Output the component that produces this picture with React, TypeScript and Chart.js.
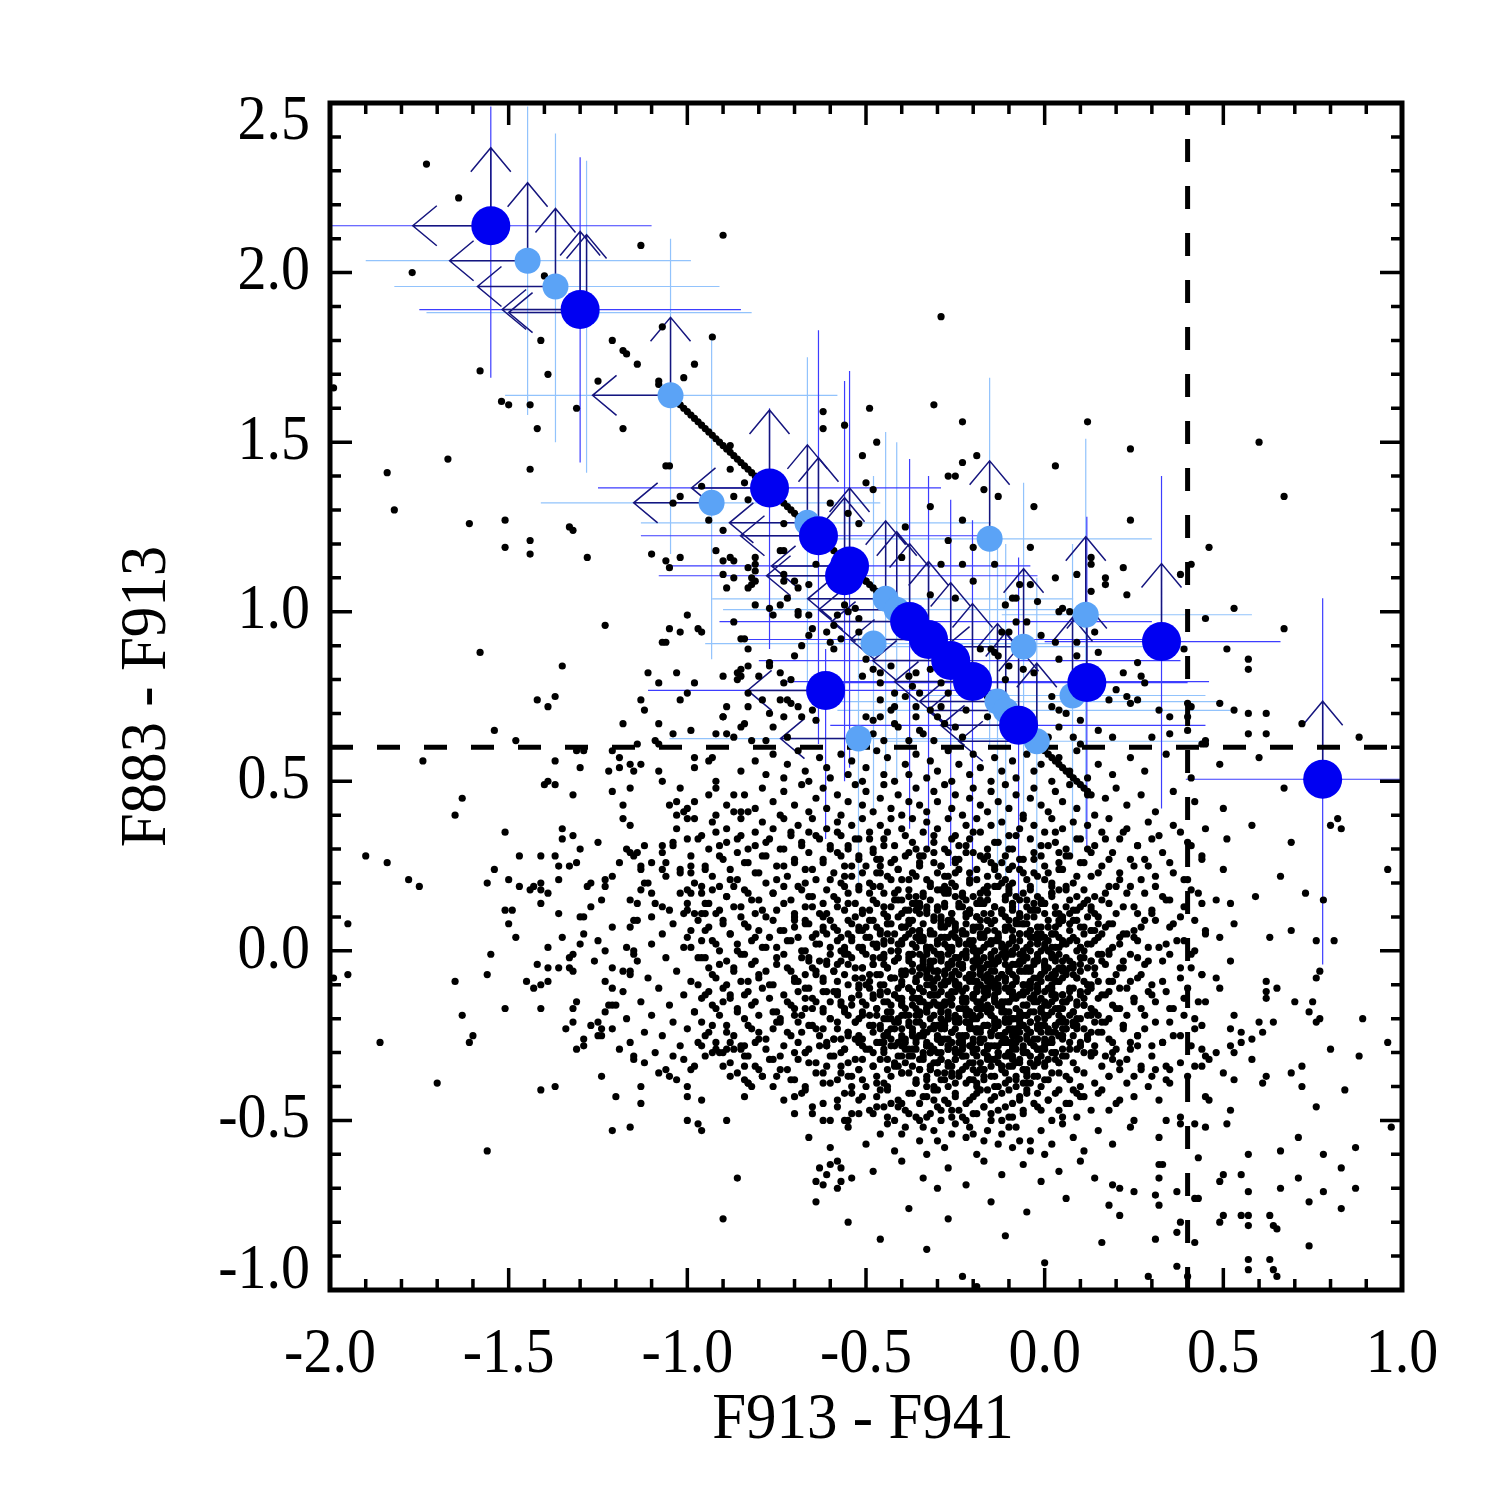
import React, { useEffect, useRef } from "react";
import { Chart, registerables } from "chart.js";

Chart.register(...registerables);

// ---------------------------------------------------------------------------
// Axes
// ---------------------------------------------------------------------------
const X_MIN = -2.0;
const X_MAX = 1.0;
const Y_MIN = -1.0;
const Y_MAX = 2.5;
const xTickValues = [-2.0, -1.5, -1.0, -0.5, 0.0, 0.5, 1.0];
const xTickLabels = ["-2.0", "-1.5", "-1.0", "-0.5", "0.0", "0.5", "1.0"];
const yTickValues = [-1.0, -0.5, 0.0, 0.5, 1.0, 1.5, 2.0, 2.5];
const yTickLabels = ["-1.0", "-0.5", "0.0", "0.5", "1.0", "1.5", "2.0", "2.5"];
const xTitle = "F913 - F941";
const yTitle = "F883 - F913";

// Colour cuts (dashed lines)
const cutF913F941 = 0.4;
const cutF883F913 = 0.6;

// ---------------------------------------------------------------------------
// Field objects: colours in hundredths of a magnitude, flat x,y pairs
// ---------------------------------------------------------------------------

// Model track (dense diagonal chain of dots)
const locusStars = [
  -121,180, -118,177, -117,176, -114,173, -108,167, -102,161, -101,160, -100,159, -99,158, -98,157,
  -97,156, -96,155, -95,154, -94,153, -93,152, -92,151, -91,150, -90,149, -89,148, -88,147,
  -87,146, -86,145, -85,144, -84,143, -83,142, -82,141, -81,140, -80,139, -79,138, -78,137,
  -77,136, -76,135, -75,134, -74,133, -73,132, -72,131, -71,130, -70,129, -69,128, -68,127,
  -67,126, -66,125, -65,124, -64,123, -63,122, -62,121, -61,120, -60,119, -59,118, -58,117,
  -57,116, -56,115, -55,114, -54,113, -53,112, -52,111, -51,110, -50,109, -49,108, -48,107,
  -47,106, -46,105, -45,104, -44,103, -43,102, -42,101, -41,100, -40,99, -39,98, -38,97,
  -37,96, -36,95, -35,94, -34,93, -33,92, -32,91, -31,90, -30,89, -29,88, -28,87,
  -27,86, -26,85, -25,84, -24,83, -23,82, -22,81, -21,80, -20,79, -19,78, -18,77,
  -17,76, -16,75, -15,74, -14,73, -13,72, -12,71, -11,70, -10,69, -9,68, -8,67,
  -7,66, -6,65, -5,64, -4,63, -3,62, -2,61, -1,60, 0,59, 1,58, 2,57,
  3,56, 4,55, 5,54, 6,53, 7,52, 8,51, 9,50, 10,49, 11,48, 12,47, 13,46,
];

// Sparse objects above the horizontal cut and on the blue branch
const northFieldStars = [
  -173,232, -164,222, -177,200, -140,199, -141,180, -158,171, -139,170, -152,162, -150,161, -144,161,
  -131,160, -142,154, -118,154, -167,145, -144,142, -184,141, -199,166, -113,208, -90,211, -125,168,
  -107,184, -93,181, -98,173, -101,169, -108,168, -106,143, -105,143, -88,142, -29,187, -182,130,
  -161,126, -151,127, -133,125, -132,124, -144,121, -151,119, -144,117, -128,116, -102,134, -104,132,
  -94,127, -84,138, -87,134, -90,124, -110,117, -106,115, -102,116, -105,113, -92,118, -90,115,
  -88,116, -87,115, -90,111, -87,110, -89,107, -83,113, -83,107, -123,96, -100,99, -105,95,
  -102,94, -97,95, -96,94, -106,91, -107,91, -87,97, -85,92, -84,92, -83,89, -158,88,
  -135,84, -111,82, -103,82, -108,79, -98,79, -90,81, -86,80, -85,81, -142,74, -137,75,
  -139,72, -113,74, -112,71, -100,76, -102,74, -89,72, -90,69, -83,72, -118,67, -108,67,
  -104,64, -99,65, -92,64, -87,63, -84,67, -85,66, -154,65, -148,62, -109,62, -108,61,
  -114,61, -88,149, -96,137, -83,133,
  -62,159, -62,154, -56,155, -49,160, -31,161, -23,156, -47,150, -51,146, -23,144, -19,146,
  -27,140, -25,140, -50,138, -48,136, -32,131, -17,136, -13,134, -55,129, -52,126, -60,132,
  -23,127, -27,121, -20,119, -23,114, -20,109, -29,114, -39,125, -40,116, -32,105, -25,104,
  -11,102, -9,104, -5,97, -18,89, -14,88, -10,84, -14,114, -7,108,
  -81,114, -81,112, -82,110, -81,109, -82,108, -73,111, -73,109, -70,109, -69,107, -66,108,
  -74,118, -64,114, -72,104, -77,101, -76,99, -74,102, -81,102, -69,99, -66,99, -65,95,
  -68,90, -61,94, -57,92, -59,89, -66,93, -70,87, -74,82, -77,85, -77,84, -80,81,
  -73,79, -71,80, -86,82, -85,83, -83,84, -83,76, -79,74, -74,74, -72,74, -71,73,
  -77,70, -73,69, -68,69, -69,72, -64,68, -65,71, -89,64, -90,69, -82,62, -78,62,
  -76,66, -72,63, -81,116, -73,118, -69,100, -60,91, -56,102, -55,100, -53,101, -52,98,
  -52,94, -58,99, -50,109, -73,126, -59,96,
  -12,94, -10,94, -15,89, -13,87, -11,80, -6,83, -3,82, 9,91, 2,75, 2,72,
  6,70, 10,68, 4,71, 4,66, -29,79, -27,76, -23,78, -22,71, -32,83, -36,82,
  -38,81, -48,83, -46,82, -46,79, -43,84, -42,76, -42,72, -46,74, -50,86, -51,81,
  -39,75, -37,78, -35,76, -36,72, -32,71, -29,72, -30,69, -28,67, -36,69, -43,71,
  -46,69, -48,68, -50,69, -42,67, -41,66, -16,69, -8,65, -7,65, -4,64, 8,63,
  10,61, 1,63, -23,63, -25,66, -31,62, -45,62, -48,64, -38,62, -34,64, -35,65,
  12,156, 24,148, 3,143, 60,150, 67,134, -3,131, 24,127, 46,119, -4,119, 22,113,
  3,110, 9,111, 17,110, 17,108, 38,111, 41,114, 13,116, 13,114, -4,108, 23,105,
  13,106, -8,104, -2,103, 53,101, 45,98, 67,95, 5,101, 4,100, 7,100, -8,97,
  -1,93, 3,91, 14,94, 15,88, 9,87, 4,86, 39,89, 51,89, 57,86, 57,83,
  26,85, 22,82, 27,81, 28,79, 20,77, 23,75, 18,74, 26,74, 24,73, 49,73,
  53,71, 57,70, 62,70, 32,71, 35,69, 40,73, 41,72, 40,69, 88,63, 72,67,
  57,64, 62,64, 40,65, 35,64, 30,63, 19,63, 15,65, 45,62, 44,61, 45,61,
];

// Western wing of the field population
const westFieldStars = [
  -131,59, -129,59, -174,56, -137,56, -121,59, -119,57, -130,54, -116,55, -113,55, -115,53,
  -119,54, -122,53, -108,53, -107,50, -98,57, -98,54, -93,57, -94,56, -85,53, -92,50,
  -92,48, -102,48, -116,48, -121,47, -132,46, -140,49, -139,50, -137,49, -163,45, -165,40,
  -118,43, -118,39, -116,37, -105,43, -103,44, -101,41, -100,42, -98,44, -98,39, -100,39,
  -103,40, -94,46, -89,43, -87,46, -87,41, -85,41, -83,41, -92,40,
  -190,28, -184,26, -178,21, -175,19, -195,8, -195,-7, -199,-8, -186,-27, -170,-39, -165,-9,
  -163,-19, -161,-27, -160,-25, -156,-59, -156,20, -154,24, -155,-1, -156,-7, -151,35, -147,28,
  -150,21, -147,19, -151,12, -149,12, -150,8, -148,4, -151,-17, -145,-9, -143,-11, -141,-10,
  -139,-9, -141,-17, -142,-4, -139,-5, -136,-5, -139,1, -135,4, -136,11, -144,18, -143,19,
  -141,20, -141,18, -139,17, -141,14, -141,28, -137,28, -136,25, -136,21, -135,36, -135,33,
  -132,34, -130,30, -131,26, -133,25, -125,32, -119,26, -121,22, -123,21, -123,19, -127,20,
  -128,19, -127,13, -129,10, -130,10, -124,15, -129,5, -130,2, -133,-2, -132,-1, -133,-5,
  -132,-6, -125,3, -123,0, -126,-3, -121,7, -131,-15, -132,-17, -134,-23, -132,-21, -129,-26,
  -131,-29, -129,-28, -127,-22, -125,-21, -124,-23, -125,-25, -124,-25, -121,-23, -123,-18, -122,-16,
  -120,-16, -121,-16, -123,-9, -121,-11, -121,-5, -118,-6, -116,-6, -116,-7, -117,1, -115,0,
  -115,-1, -116,7, -115,9, -114,9, -117,30, -116,29, -115,28, -114,29, -113,25, -113,24,
  -112,31, -112,20, -111,20, -113,18, -116,15, -114,14, -110,17, -109,14, -107,13, -110,26,
  -107,31, -107,29, -106,26, -107,24, -106,22, -103,36, -104,32, -104,31, -100,33, -102,24,
  -102,23, -99,25, -99,23, -96,19, -102,17, -100,18, -99,17, -100,14, -101,11, -98,11,
  -96,11, -95,11,
  -118,-12, -117,-20, -116,-27, -114,-3, -113,-15, -112,-24, -111,-8, -110,2, -110,-19, -109,-30,
  -108,-11, -107,5, -107,-25, -106,-2, -105,-16, -104,8, -104,-21, -103,-6, -102,-28, -101,1,
  -101,-13, -100,-23, -99,6, -99,-9, -98,-18, -97,-2, -97,-27, -96,3, -96,-14, -119,-29,
  -112,-33, -108,-36, -103,-38, -110,10, -105,12, -100,4, -98,-34,
  -141,-41, -137,-40, -124,-37, -120,-43, -113,-40, -113,-45, -121,-53, -116,-52, -100,-50, -97,-51,
  -96,-53, -89,-50, -100,-43, -100,-40, -96,-44, -90,-34, -88,-37, -84,-43, -86,-67, -90,-79,
  -104,-31, -101,-32, -99,-35, -106,-35, -105,-37, -115,-32, -115,-31, -96,-28, -95,-31, -93,-30,
  -92,-29, -89,-29, -88,-27, -84,-28, -84,-31, -84,-34, -83,-39,
];

// Eastern wing and the south-east tail
const eastFieldStars = [
  60,57, 67,48, 80,37, 82,39, 83,36, 69,32, 96,24, 66,22, 73,17, 78,15,
  59,16, 69,6, 76,3, 81,3, 63,4, 77,-6, 76,-8, 62,-9, 62,-12, 62,-14,
  65,-11, 70,-15, 75,-15, 74,-18, 77,-20, 76,-21, 89,-20, 96,-27, 80,-29, 88,-31,
  60,-21, 64,-21, 61,-24, 58,-26, 55,-24, 55,-27, 58,-32, 72,-34, 72,-40, 69,-36,
  62,-37, 61,-39, 84,-41, 76,-46, 97,-52, 71,-55, 87,-58, 78,-60, 66,-59, 57,-60,
  83,-64, 55,-66, 74,-74, 57,-78, 57,-81, 63,-78, 64,-81, 65,-82, 57,-71, 66,-70,
  71,-67, 78,-71, 83,-76, 87,-70, 74,-87, 57,-91, 57,-94, 63,-91, 64,-94, 65,-96,
  55,-78, 52,-28, 53,-30, 50,-36, 53,-38, 51,-51, 52,-47, 50,-66, 49,-68, 42,-73,
  37,-71, 31,-72, 38,-80, 43,-61, 32,-63, 33,-63, 32,-55, 34,-50, 38,-49, 38,-51,
  42,-51, 45,-52, 32,-44, 45,-43, 46,-44, 44,-34, 45,-31, 46,-32, 40,-37, 42,-34,
  34,-34, 35,-35, 34,-38, 35,-39, 30,-37, 19,-69, 21,-70, 25,-71, 18,-75, 21,-78,
  32,-75, 31,-85, 37,-83, 37,-93, 29,-96, 40,-96, 42,-86, 43,-73, 49,-80, 50,-78,
  32,-67,
];

// Southern tail below the main clump
const southFieldStars = [
  -63,-64, -60,-63, -57,-64, -64,-68, -58,-70, -54,-67, -46,-85, -23,-96, -11,-84, 16,-86,
  -38,-76, -27,-79, -15,-74, -5,-77, 6,-73, -55,-80, -33,-88, 0,-92, -19,-99, -64,-74,
];

// Main clump, in horizontal strips of 0.1 mag
const stripPlus50 = [
  -81,56, -78,52, -76,58, -73,51, -72,55, -69,59, -67,53, -66,50, -63,57, -61,54,
  -60,51, -57,58, -55,52, -54,56, -51,50, -50,54, -47,59, -45,52, -44,57, -42,50,
  -39,55, -38,52, -36,58, -33,51, -32,56, -30,53, -27,59, -26,50, -24,55, -21,52,
  -20,58, -18,54, -15,50, -14,57, -12,53, -9,56, -8,51, -5,58, -3,53, -1,55,
  2,50, 4,57, 7,53, 9,59, 12,51, 15,55, 19,52, 24,57, 28,53, 34,58, 41,51, 49,55,
];

const stripPlus40 = [
  -84,46, -81,42, -79,48, -76,44, -74,40, -73,47, -70,43, -68,49, -66,41, -64,45,
  -62,48, -61,42, -58,46, -57,40, -55,44, -53,49, -51,43, -50,47, -48,41, -46,45,
  -45,49, -43,42, -41,46, -40,40, -38,44, -36,48, -35,43, -33,41, -31,47, -30,44,
  -28,49, -26,42, -25,46, -23,40, -21,45, -20,48, -18,43, -16,41, -15,47, -13,44,
  -11,49, -10,42, -8,46, -6,40, -4,45, -3,48, -1,43, 1,41, 3,47, 5,44,
  7,49, 9,42, 12,46, 14,40, 17,45, 20,48, 23,43, 27,46, 31,41, 36,47, 42,44, 50,42,
];

const stripPlus30 = [
  -96,34, -93,38, -91,31, -89,36, -86,33, -85,39, -83,30, -81,35, -79,38, -78,32,
  -76,36, -74,30, -73,39, -71,34, -69,37, -68,31, -66,35, -65,39, -63,33, -61,36,
  -60,30, -58,38, -57,34, -55,31, -54,37, -52,33, -51,39, -49,35, -48,30, -46,37,
  -45,33, -43,39, -42,31, -40,36, -39,34, -37,39, -36,30, -34,35, -33,38, -31,32,
  -30,36, -28,30, -27,39, -25,34, -24,31, -22,37, -21,33, -19,39, -18,35, -16,30,
  -15,37, -13,32, -12,38, -10,34, -9,30, -7,36, -6,39, -4,33, -3,37, -1,31,
  0,35, 2,39, 3,32, 5,36, 6,30, 8,38, 10,33, 12,37, 14,31, 16,35,
  18,39, 21,33, 23,36, 26,31, 29,38, 32,34, 36,37, 40,32, 45,36, 51,33, 58,37,
];

const stripPlus20 = [
  -70,26, -67,20, -65,24, -62,27, -60,21, -58,29, -56,22, -54,25, -52,28, -51,23,
  -49,20, -47,27, -46,25, -44,22, -43,26, -41,24, -40,21, -38,29, -37,23, -35,28,
  -34,28, -33,21, -31,26, -30,23, -29,25, -27,22, -26,20, -25,27, -24,24, -22,29,
  -21,23, -20,29, -19,21, -17,27, -16,22, -15,26, -14,25, -12,20, -11,28, -10,24,
  -9,25, -7,24, -6,27, -5,21, -3,29, -2,22, -1,28, 1,23, 2,20, 4,26,
  5,24, 7,28, 9,22, 11,26, 13,29, 15,23, 18,27, 21,21, 25,25,
  -95,24, -91,28, -88,21, -84,26, -81,23, -78,28, -75,21, -73,25, 28,27, 31,22,
  35,26, 39,21, 44,28, 50,24,
  -46,23, -42,27, -38,21, -35,25, -31,29, -28,22, -25,26, -21,20, -18,28, -14,24,
  -11,21, -7,27, -3,23, 0,25, 4,29,
];

const stripPlus10 = [
  -95,14, -93,18, -91,12, -89,16, -87,19, -85,13, -83,17, -81,11, -80,15, -78,10,
  -76,17, -75,12, -73,19, -71,15, -70,10, -68,18, -67,13, -65,16, -63,11, -62,14,
  -61,11, -59,16, -58,13, -56,19, -55,14, -53,10, -52,18, -51,12, -49,17, -48,15,
  -46,19, -45,13, -44,10, -42,15, -41,18, -40,11, -38,16, -37,14, -36,12, -34,17,
  -33,12, -32,15, -30,18, -29,10, -28,13, -27,17, -25,19, -24,14, -23,16, -21,11,
  -20,16, -19,10, -18,14, -16,17, -15,11, -14,19, -12,12, -11,15, -10,18, -9,13,
  -7,10, -6,17, -5,15, -3,12, -2,16, -1,14, 0,11, 2,19, 3,13, 4,18,
  6,18, 7,11, 9,16, 10,13, 12,15, 13,12, 15,10, 17,17, 18,14, 20,19,
  22,13, 24,19, 26,11, 28,17, 30,12, 33,16, 35,15, 38,10, 41,18, 44,14, 48,15, 52,14,
  -44,10, -42,17, -40,15, -38,12, -36,16, -35,14, -33,11, -32,19, -30,13, -29,18,
  -27,18, -26,11, -25,16, -23,13, -22,15, -21,12, -19,10, -18,17, -17,14, -16,19,
  -14,13, -13,19, -12,11, -10,17, -9,12, -8,16, -7,15, -5,10, -4,18, -3,14,
  -1,15, 0,14, 2,17, 4,11, 6,19, 9,12,
  -35,13, -28,17, -22,11, -16,15, -10,19, -4,12, 2,16,
];

const stripZero = [
  -94,7, -92,2, -90,9, -88,5, -86,0, -84,8, -82,3, -80,6, -79,1, -77,4,
  -75,1, -74,6, -72,3, -70,9, -69,4, -67,0, -66,8, -64,2, -62,7, -61,5,
  -60,9, -58,3, -57,0, -55,5, -54,8, -52,1, -51,6, -50,4, -48,2, -47,7,
  -45,2, -44,5, -43,8, -41,0, -40,3, -39,7, -37,9, -36,4, -35,6, -33,1,
  -32,6, -31,0, -29,4, -28,7, -27,1, -26,9, -24,2, -23,5, -22,8, -20,3,
  -19,0, -18,7, -17,5, -15,2, -14,6, -13,4, -11,1, -10,9, -9,3, -8,8,
  -6,8, -5,1, -4,6, -2,3, -1,5, 0,2, 1,0, 3,7, 4,4, 5,9,
  7,3, 8,9, 10,1, 11,7, 13,2, 14,6, 16,5, 18,0, 19,8, 21,4,
  23,5, 25,4, 27,7, 29,1, 31,9, 34,2, 36,8, 39,3, 42,0, 45,6, 49,4, 53,8,
  -70,7, -67,9, -65,4, -62,6, -60,1, -58,6, -56,0, -54,4, -52,7, -51,1,
  -49,9, -47,2, -46,5, -44,8, -43,3, -41,0, -40,7, -38,5, -37,2, -35,6,
  -34,4, -33,1, -31,9, -30,3, -29,8, -27,8, -26,1, -25,6, -24,3, -22,5,
  -21,2, -20,0, -19,7, -17,4, -16,9, -15,3, -14,9, -12,1, -11,7, -10,2,
  -9,6, -7,5, -6,0, -5,8, -3,4, -2,5, -1,4, 1,7, 2,1, 4,9,
  5,2, 7,8, 9,3, 11,0, 13,6, 15,4, 18,8, 21,2, 25,6,
  -40,2, -38,8, -35,5, -32,1, -29,9, -27,4, -25,7, -22,2, -20,6, -18,0,
  -16,9, -13,3, -11,6, -9,0, -7,8, -4,4, -2,7, 0,1, 2,5, 5,9,
];

const stripMinus00 = [
  -95,-2, -93,-7, -91,-4, -89,-10, -87,-5, -85,-1, -83,-9, -81,-3, -80,-8, -78,-6,
  -76,-10, -75,-4, -73,-1, -71,-6, -70,-9, -68,-2, -67,-7, -65,-5, -63,-3, -62,-8,
  -61,-3, -59,-6, -58,-9, -56,-1, -55,-4, -53,-8, -52,-10, -51,-5, -49,-7, -48,-2,
  -46,-7, -45,-1, -44,-5, -42,-8, -41,-2, -40,-10, -38,-3, -37,-6, -36,-9, -34,-4,
  -33,-1, -32,-8, -30,-6, -29,-3, -28,-7, -27,-5, -25,-2, -24,-10, -23,-4, -21,-9,
  -20,-9, -19,-2, -18,-7, -16,-4, -15,-6, -14,-3, -12,-1, -11,-8, -10,-5, -9,-10,
  -7,-4, -6,-10, -5,-2, -3,-8, -2,-3, -1,-7, 0,-6, 2,-1, 3,-9, 4,-5,
  6,-6, 7,-5, 9,-8, 10,-2, 12,-10, 13,-3, 15,-9, 17,-4, 18,-1, 20,-7,
  22,-5, 24,-9, 26,-2, 28,-4, 30,-10, 33,-3, 35,-1, 38,-8, 41,-5, 44,-7, 48,-8, 52,-3,
  -69,-9, -66,-2, -64,-7, -61,-4, -59,-6, -57,-3, -55,-1, -53,-8, -51,-5, -50,-10,
  -48,-4, -46,-10, -45,-2, -43,-8, -42,-3, -40,-7, -39,-6, -37,-1, -36,-9, -34,-5,
  -33,-6, -32,-5, -30,-8, -29,-2, -28,-10, -26,-3, -25,-9, -24,-4, -23,-1, -21,-7,
  -20,-5, -19,-9, -18,-3, -16,-7, -15,-10, -14,-4, -13,-8, -11,-2, -10,-6, -9,-1,
  -8,-8, -6,-3, -5,-10, -4,-6, -2,-1, -1,-9, 0,-4, 2,-7, 3,-2, 5,-5,
  6,-2, 8,-7, 10,-4, 12,-10, 14,-5, 16,-1, 19,-9, 22,-3, 26,-8,
  -45,-4, -43,-8, -41,-2, -39,-6, -37,-1, -36,-8, -34,-3, -33,-10, -31,-6, -30,-1,
  -28,-9, -27,-4, -26,-7, -24,-2, -23,-5, -22,-2, -20,-7, -19,-4, -18,-10, -17,-5,
  -15,-1, -14,-9, -13,-3, -11,-8, -10,-6, -9,-10, -8,-4, -6,-1, -5,-6, -4,-9,
  -2,-2, -1,-7, 1,-5, 3,-3, 5,-8, 8,-5,
  -40,-9, -38,-2, -35,-7, -32,-4, -29,-10, -27,-1, -25,-6, -22,-8, -20,-3, -18,-5,
  -16,-9, -13,-2, -11,-4, -9,-7, -7,-1, -4,-5, -2,-10, 0,-3, 2,-8, 5,-6,
];

const stripMinus10 = [
  -94,-12, -92,-17, -90,-15, -88,-13, -86,-18, -84,-13, -82,-16, -80,-19, -79,-11, -77,-14,
  -75,-18, -74,-20, -72,-15, -70,-17, -69,-12, -67,-17, -66,-11, -64,-15, -62,-18, -61,-12,
  -60,-20, -58,-13, -57,-16, -55,-19, -54,-14, -52,-11, -51,-18, -50,-16, -48,-13, -47,-17,
  -45,-15, -44,-12, -43,-20, -41,-14, -40,-19, -39,-19, -37,-12, -36,-17, -35,-14, -33,-16,
  -32,-13, -31,-11, -29,-18, -28,-15, -27,-20, -26,-14, -24,-20, -23,-12, -22,-18, -20,-13,
  -19,-17, -18,-16, -17,-11, -15,-19, -14,-15, -13,-16, -11,-15, -10,-18, -9,-12, -8,-20,
  -6,-13, -5,-19, -4,-14, -2,-11, -1,-17, 0,-15, 1,-19, 3,-13, 4,-17, 5,-20,
  7,-14, 8,-18, 10,-12, 11,-16, 13,-11, 14,-18, 16,-13, 18,-20, 19,-16, 21,-11,
  23,-19, 25,-14, 27,-17, 29,-12, 31,-15, 34,-12, 36,-17, 39,-14, 42,-20, 45,-15, 49,-11, 53,-19,
  -70,-19, -67,-14, -65,-17, -62,-12, -60,-15, -58,-12, -56,-17, -54,-14, -52,-20, -51,-15,
  -49,-11, -47,-19, -46,-13, -44,-18, -43,-16, -41,-20, -40,-14, -38,-11, -37,-16, -35,-19,
  -34,-12, -33,-17, -31,-15, -30,-13, -29,-18, -27,-13, -26,-16, -25,-19, -24,-11, -22,-14,
  -21,-18, -20,-20, -19,-15, -17,-17, -16,-12, -15,-17, -14,-11, -12,-15, -11,-18, -10,-12,
  -9,-20, -7,-13, -6,-16, -5,-19, -3,-14, -2,-11, -1,-18, 1,-16, 2,-13, 4,-17,
  5,-15, 7,-12, 9,-20, 11,-14, 13,-19, 15,-19, 18,-12, 21,-17, 25,-14,
  -44,-20, -42,-13, -40,-16, -38,-19, -36,-14, -35,-11, -33,-18, -32,-16, -30,-13, -29,-17,
  -27,-15, -26,-12, -25,-20, -23,-14, -22,-19, -21,-19, -19,-12, -18,-17, -17,-14, -16,-16,
  -14,-13, -13,-11, -12,-18, -10,-15, -9,-20, -8,-14, -7,-20, -5,-12, -4,-18, -3,-13,
  -1,-17, 0,-16, 2,-11, 4,-19, 6,-15, 9,-16,
  -40,-15, -38,-11, -35,-18, -32,-13, -29,-16, -27,-20, -25,-12, -22,-17, -20,-14, -18,-19,
  -16,-11, -13,-16, -11,-20, -9,-13, -7,-18, -4,-11, -2,-15, 0,-19, 2,-12, 5,-17,
];

const stripMinus20 = [
  -95,-25, -93,-22, -91,-30, -89,-24, -87,-29, -85,-29, -83,-22, -81,-27, -80,-24, -78,-26,
  -76,-23, -75,-21, -73,-28, -71,-25, -70,-30, -68,-24, -67,-30, -65,-22, -63,-28, -62,-23,
  -61,-27, -59,-26, -58,-21, -56,-29, -55,-25, -53,-26, -52,-25, -51,-28, -49,-22, -48,-30,
  -46,-23, -45,-29, -44,-24, -42,-21, -41,-27, -40,-25, -38,-29, -37,-23, -36,-27, -34,-30,
  -33,-24, -32,-28, -30,-22, -29,-26, -28,-21, -27,-28, -25,-23, -24,-30, -23,-26, -21,-21,
  -20,-29, -19,-24, -18,-27, -16,-22, -15,-25, -14,-22, -12,-27, -11,-24, -10,-30, -9,-25,
  -7,-21, -6,-29, -5,-23, -3,-28, -2,-26, -1,-22, 0,-27, 2,-24, 3,-30, 4,-25,
  6,-21, 7,-29, 9,-23, 10,-28, 12,-26, 13,-30, 15,-24, 17,-21, 18,-26, 20,-29,
  22,-22, 24,-27, 26,-25, 28,-23, 30,-28, 33,-27, 35,-21, 38,-25, 41,-28, 44,-22, 48,-30, 52,-23,
  -69,-21, -66,-29, -64,-23, -61,-28, -59,-26, -57,-30, -55,-24, -53,-21, -51,-26, -50,-29,
  -48,-22, -46,-27, -45,-25, -43,-23, -42,-28, -40,-23, -39,-26, -37,-29, -36,-21, -34,-24,
  -33,-28, -32,-30, -30,-25, -29,-27, -28,-22, -26,-27, -25,-21, -24,-25, -23,-28, -21,-22,
  -20,-30, -19,-23, -18,-26, -16,-29, -15,-24, -14,-21, -13,-28, -11,-26, -10,-23, -9,-27,
  -8,-25, -6,-22, -5,-30, -4,-24, -2,-29, -1,-29, 0,-22, 2,-27, 3,-24, 5,-26,
  6,-23, 8,-21, 10,-28, 12,-25, 14,-30, 16,-24, 19,-30, 22,-22, 26,-28,
  -45,-27, -43,-26, -41,-21, -39,-29, -37,-25, -36,-26, -34,-25, -33,-28, -31,-22, -30,-30,
  -28,-23, -27,-29, -26,-24, -24,-21, -23,-27, -22,-25, -20,-29, -19,-23, -18,-27, -17,-30,
  -15,-24, -14,-28, -13,-22, -11,-26, -10,-21, -9,-28, -8,-23, -6,-30, -5,-26, -4,-21,
  -2,-29, -1,-24, 1,-27, 3,-22, 5,-25, 8,-22,
  -40,-28, -38,-22, -35,-25, -32,-30, -29,-23, -27,-26, -25,-29, -22,-21, -20,-26, -18,-23,
  -16,-28, -13,-25, -11,-21, -9,-29, -7,-24, -4,-27, -2,-22, 0,-26, 2,-30, 5,-23,
];

const stripMinus30 = [
  -84,-38, -82,-40, -80,-35, -79,-37, -77,-32, -75,-37, -74,-31, -72,-35, -70,-38, -69,-32,
  -67,-40, -66,-33, -64,-36, -62,-39, -61,-34, -60,-31, -58,-38, -57,-36, -55,-33, -54,-37,
  -52,-35, -51,-32, -50,-40, -48,-34, -47,-39, -45,-39, -44,-32, -43,-37, -41,-34, -40,-36,
  -39,-33, -37,-31, -36,-38, -35,-35, -33,-40, -32,-34, -31,-40, -29,-32, -28,-38, -27,-33,
  -26,-37, -24,-36, -23,-31, -22,-39, -20,-35, -19,-36, -18,-35, -17,-38, -15,-32, -14,-40,
  -13,-33, -11,-39, -10,-34, -9,-31, -8,-37, -6,-35, -5,-39, -4,-33, -2,-37, -1,-40,
  0,-34, 1,-38, 3,-32, 4,-36, 5,-31, 7,-38, 8,-33, 10,-40, 11,-36, 13,-31,
  14,-39, 16,-34, 18,-37, 19,-32, 21,-35, 23,-32, 25,-37, 27,-34, 29,-40, 31,-35,
  -44,-40, -42,-34, -40,-31, -38,-36, -36,-39, -35,-32, -33,-37, -32,-35, -30,-33, -29,-38,
  -27,-33, -26,-36, -25,-39, -23,-31, -22,-34, -21,-38, -19,-40, -18,-35, -17,-37, -16,-32,
  -14,-37, -13,-31, -12,-35, -10,-38, -9,-32, -8,-40, -7,-33, -5,-36, -4,-39, -3,-34,
  -1,-31, 0,-38, 2,-36, 4,-33, 6,-37, 9,-35,
  -30,-36, -25,-32, -20,-38, -15,-34, -10,-31, -5,-37, 0,-33,
];

const stripMinus40 = [
  -70,-43, -67,-41, -65,-48, -62,-45, -60,-50, -58,-44, -56,-50, -54,-42, -52,-48, -51,-43,
  -49,-47, -47,-46, -46,-41, -44,-49, -43,-45, -41,-46, -40,-45, -38,-48, -37,-42, -35,-50,
  -34,-43, -33,-49, -31,-44, -30,-41, -29,-47, -27,-45, -26,-49, -25,-43, -24,-47, -22,-50,
  -21,-44, -20,-48, -19,-42, -17,-46, -16,-41, -15,-48, -14,-43, -12,-50, -11,-46, -10,-41,
  -9,-49, -7,-44, -6,-47, -5,-42, -3,-45, -2,-42, -1,-47, 1,-44, 2,-50, 4,-41,
  5,-49, 7,-45, 9,-42, 11,-43, 13,-47, 15,-42, 18,-47, 21,-44, 25,-50,
];

const stripMinus50 = [
  -66,-55, -60,-58, -55,-52, -50,-57, -46,-54, -42,-59, -39,-52, -35,-56, -31,-53, -28,-58,
  -25,-51, -22,-55, -19,-60, -16,-53, -13,-57, -10,-52, -7,-56, -4,-59, -1,-53, 2,-57,
  5,-51, 8,-55, 11,-59, 15,-53, 19,-57, 24,-52, -33,-60, -20,-54, -9,-58, -44,-51, 0,-60,
];

const stripMinus60 = [
  -61,-66, -58,-62, -57,-68, -62,-69, -48,-65, -40,-62, -34,-67, -27,-64, -22,-69, -17,-62,
  -12,-66, -6,-63, -1,-68, 4,-65, 10,-62, 14,-67, -30,-70,
];

// Densest part of the clump, row by row
const clumpCore = [
  -47,14, -36,14, -28,14, -19,14, -9,14, 0,14, 11,14,
  -43,13, -33,13, -24,13, -14,13, -5,13, 6,13, 13,13,
  -49,12, -39,12, -30,12, -21,12, -12,12, -2,12, 8,12,
  -45,11, -35,11, -26,11, -17,11, -7,11, 3,11, 14,11,
  -41,10, -31,10, -22,10, -11,10, -3,10, 5,10, 12,10,
  -48,9, -38,9, -27,9, -18,9, -8,9, 1,9, 9,9,
  -44,8, -34,8, -25,8, -15,8, -6,8, 4,8, 15,8,
  -50,7, -40,7, -29,7, -20,7, -10,7, -1,7, 10,7,
  -46,6, -37,6, -23,6, -16,6, -4,6, 7,6, 13,6,
  -42,5, -32,5, -26,5, -13,5, -5,5, 2,5, 11,5,
  -49,4, -39,4, -28,4, -18,4, -9,4, 0,4, 8,4,
  -45,3, -35,3, -24,3, -14,3, -7,3, 5,3, 14,3,
  -41,2, -30,2, -21,2, -12,2, -2,2, 6,2, 12,2,
  -47,1, -36,1, -27,1, -17,1, -8,1, 3,1, 10,1,
  -43,0, -33,0, -22,0, -11,0, -4,0, 1,0, 9,0,
  -50,-1, -38,-1, -29,-1, -19,-1, -10,-1, 4,-1, 15,-1,
  -46,-2, -34,-2, -25,-2, -15,-2, -6,-2, 2,-2, 11,-2,
  -42,-3, -31,-3, -20,-3, -13,-3, -3,-3, 7,-3, 13,-3,
  -48,-4, -37,-4, -26,-4, -16,-4, -9,-4, 0,-4, 8,-4,
  -44,-5, -35,-5, -23,-5, -18,-5, -5,-5, 5,-5, 12,-5,
  -40,-6, -30,-6, -28,-6, -14,-6, -7,-6, 3,-6, 10,-6,
  -47,-7, -39,-7, -24,-7, -12,-7, -1,-7, 6,-7, 14,-7,
  -43,-8, -33,-8, -21,-8, -17,-8, -8,-8, 1,-8, 9,-8,
  -49,-9, -36,-9, -27,-9, -11,-9, -4,-9, 4,-9, 11,-9,
  -45,-10, -32,-10, -25,-10, -15,-10, -6,-10, 2,-10, 13,-10,
  -41,-11, -38,-11, -22,-11, -19,-11, -10,-11, 7,-11, 8,-11,
  -46,-12, -34,-12, -29,-12, -13,-12, -2,-12, 0,-12, 12,-12,
  -42,-13, -31,-13, -20,-13, -16,-13, -7,-13, 5,-13, 10,-13,
  -48,-14, -37,-14, -26,-14, -14,-14, -9,-14, 3,-14, 15,-14,
  -44,-15, -35,-15, -23,-15, -18,-15, -3,-15, 6,-15, 9,-15,
  -40,-16, -30,-16, -28,-16, -12,-16, -5,-16, 1,-16, 11,-16,
  -47,-17, -39,-17, -24,-17, -17,-17, -8,-17, 4,-17, 13,-17,
  -43,-18, -33,-18, -21,-18, -11,-18, -1,-18, 2,-18, 8,-18,
  -49,-19, -36,-19, -27,-19, -15,-19, -6,-19, 7,-19, 12,-19,
  -45,-20, -32,-20, -25,-20, -19,-20, -10,-20, 0,-20, 10,-20,
  -41,-21, -38,-21, -22,-21, -13,-21, -4,-21, 5,-21, 14,-21,
  -46,-22, -34,-22, -29,-22, -16,-22, -7,-22, 3,-22, 9,-22,
  -42,-23, -31,-23, -20,-23, -14,-23, -2,-23, 6,-23, 11,-23,
  -48,-24, -37,-24, -26,-24, -18,-24, -9,-24, 1,-24, 13,-24,
  -44,-25, -35,-25, -23,-25, -12,-25, -5,-25, 4,-25, 8,-25,
  -40,-26, -30,-26, -28,-26, -17,-26, -3,-26, 2,-26, 12,-26,
  -47,-27, -39,-27, -24,-27, -11,-27, -8,-27, 7,-27, 10,-27,
  -43,-28, -33,-28, -21,-28, -15,-28, -6,-28, 0,-28, 14,-28,
  -49,-29, -36,-29, -27,-29, -19,-29, -1,-29, 5,-29, 9,-29,
  -45,-30, -32,-30, -25,-30, -13,-30, -10,-30, 3,-30, 11,-30,
  -41,-31, -38,-31, -22,-31, -16,-31, -4,-31, 6,-31,
  -46,-32, -34,-32, -29,-32, -14,-32, -7,-32, 1,-32,
  -42,-33, -31,-33, -20,-33, -18,-33, -2,-33, 4,-33,
  -48,-34, -37,-34, -26,-34, -12,-34, -9,-34,
  -44,-35, -35,-35, -23,-35, -17,-35, -5,-35,
  -40,-36, -30,-36, -28,-36, -11,-36,
  -47,-37, -24,-37, -15,-37, -3,-37,
  -33,-38, -21,-38, -8,-38,
  -36,-39, -19,-39, -6,-39,
  -27,-40, -13,-40,
];

// Very centre of the clump, where the dots merge
const clumpHeart = [
  -31,5, -18,5, -7,5, 3,5, -25,4, -13,4, -2,4, -34,3, -21,3, -9,3,
  1,3, -28,2, -16,2, -4,2, -33,1, -20,1, -8,1, 4,1, -26,0, -14,0,
  -1,0, -35,-1, -22,-1, -11,-1, 2,-1, -29,-2, -17,-2, -5,-2, -32,-3, -19,-3,
  -7,-3, 5,-3, -27,-4, -15,-4, -3,-4, -34,-5, -23,-5, -10,-5, 0,-5, -30,-6,
  -18,-6, -6,-6, -33,-7, -21,-7, -12,-7, 3,-7, -26,-8, -15,-8, -2,-8, -31,-9,
  -19,-9, -8,-9, 4,-9, -28,-10, -13,-10, -4,-10, -35,-11, -24,-11, -11,-11, 1,-11,
  -29,-12, -17,-12, -6,-12, -32,-13, -20,-13, -9,-13, 5,-13, -26,-14, -14,-14, -1,-14,
  -34,-15, -22,-15, -10,-15, 2,-15, -30,-16, -18,-16, -5,-16, -33,-17, -23,-17, -12,-17,
  3,-17, -27,-18, -16,-18, -3,-18, -31,-19, -20,-19, -7,-19, 0,-19, -29,-20, -14,-20,
  -2,-20, -35,-21, -24,-21, -11,-21, 4,-21, -28,-22, -17,-22, -6,-22, -32,-23, -21,-23,
  -9,-23, 1,-23, -26,-24, -15,-24, -4,-24, -34,-25, -22,-25, -12,-25, 5,-25, -30,-26,
  -18,-26, -7,-26, -33,-27, -20,-27, -10,-27, 2,-27, -27,-28, -16,-28, -3,-28, -31,-29,
  -23,-29, -8,-29, 0,-29, -29,-30, -13,-30, -5,-30, -34,-31, -19,-31, -11,-31, -25,-32,
  -15,-32, -2,-32, -30,-33, -21,-33, -8,-33, -27,-34, -12,-34, -32,-35, -17,-35, -6,-35,
];

// Outer parts of the clump, west, east, north and south of the core
const clumpWestRing = [
  -92,35, -71,35, -58,35, -85,34, -64,34, -97,33, -77,33, -53,33, -89,32, -68,32,
  -81,31, -60,31, -94,30, -73,30, -55,30, -86,29, -66,29, -99,28, -79,28, -57,28,
  -90,27, -70,27, -52,27, -83,26, -62,26, -95,25, -75,25, -56,25, -88,24, -67,24,
  -80,23, -59,23, -93,22, -72,22, -54,22, -86,21, -64,21, -98,20, -78,20, -57,20,
  -91,19, -69,19, -52,19, -84,18, -61,18, -96,17, -76,17, -55,17, -89,16, -66,16,
  -82,15, -58,15, -94,14, -73,14, -53,14, -87,13, -65,13, -100,12, -79,12, -56,12,
  -92,11, -70,11, -51,11, -85,10, -62,10, -97,9, -76,9, -55,9, -90,8, -67,8,
  -83,7, -59,7, -95,6, -73,6, -52,6, -88,5, -64,5, -81,4, -57,4, -93,3,
  -71,3, -54,3, -86,2, -63,2, -99,1, -78,1, -56,1, -91,0, -68,0, -51,0,
  -84,-1, -60,-1, -96,-2, -75,-2, -54,-2, -89,-3, -66,-3, -82,-4, -58,-4, -94,-5,
  -72,-5, -53,-5, -87,-6, -64,-6, -80,-7, -56,-7, -92,-8, -70,-8, -51,-8, -85,-9,
  -62,-9, -97,-10, -77,-10, -55,-10, -90,-11, -67,-11, -83,-12, -59,-12, -95,-13, -73,-13,
  -52,-13, -88,-14, -65,-14, -81,-15, -57,-15, -93,-16, -71,-16, -54,-16, -86,-17, -62,-17,
  -98,-18, -76,-18, -56,-18, -91,-19, -68,-19, -51,-19, -84,-20, -60,-20, -96,-21, -74,-21,
  -53,-21, -89,-22, -66,-22, -82,-23, -58,-23, -94,-24, -72,-24, -55,-24, -87,-25, -63,-25,
  -80,-26, -57,-26, -92,-27, -69,-27, -52,-27, -85,-28, -61,-28, -78,-29, -56,-29, -90,-30,
  -67,-30, -83,-31, -59,-31, -76,-32, -53,-32, -88,-33, -64,-33, -81,-34, -57,-34, -74,-35,
  -52,-35, -86,-36, -62,-36, -79,-37, -55,-37, -71,-38, -51,-38, -83,-39, -60,-39, -76,-40,
  -54,-40, -68,-42, -56,-42, -73,-44, -52,-44, -65,-46, -58,-46, -70,-48, -54,-48, -62,-50,
  -55,-50,
];

const clumpEastRing = [
  22,35, 38,35, 17,33, 30,33, 26,31, 41,31, 19,29, 33,29, 24,27, 44,27,
  16,25, 29,25, 21,23, 36,23, 27,21, 40,21, 18,19, 31,19, 23,17, 43,17,
  16,15, 34,15, 25,13, 39,13, 20,11, 30,11, 28,9, 42,9, 17,7, 35,7,
  22,5, 45,5, 26,3, 37,3, 19,1, 32,1, 24,-1, 41,-1, 16,-3, 29,-3,
  21,-5, 38,-5, 27,-7, 44,-7, 18,-9, 33,-9, 23,-11, 40,-11, 17,-13, 30,-13,
  25,-15, 43,-15, 20,-17, 35,-17, 28,-19, 39,-19, 16,-21, 31,-21, 22,-23, 42,-23,
  26,-25, 36,-25, 19,-27, 33,-27, 24,-29, 44,-29, 17,-31, 30,-31, 21,-33, 38,-33,
  27,-35, 18,-37, 23,-39, 16,-41, 25,-43, 20,-45,
];

const clumpNorthRing = [
  -44,35, -20,35, 3,35, -31,34, -8,34, -49,33, -26,33, 9,33, -37,32, -14,32,
  -45,31, -22,31, 1,31, -33,30, -10,30, 12,30, -48,29, -27,29, -39,28, -16,28,
  6,28, -46,27, -24,27, -3,27, -35,26, -12,26, 10,26, -50,25, -29,25, -41,24,
  -19,24, 4,24, -47,23, -25,23, -6,23, -36,22, -13,22, 13,22, -43,21, -21,21,
  0,21, -32,20, -9,20, 8,20, -48,19, -28,19, -4,19, -38,18, -17,18, 11,18,
  -45,17, -23,17, 2,17, -34,16, -11,16, 14,16, -41,15, -18,15, 7,15,
];

const clumpSouthRing = [
  -44,-41, -31,-41, -18,-41, -5,-41, 8,-41, -38,-42, -25,-42, -12,-42, 3,-42, -47,-43,
  -33,-43, -20,-43, -7,-43, 10,-43, -41,-44, -28,-44, -15,-44, 1,-44, -35,-45, -22,-45,
  -9,-45, 6,-45, -45,-46, -30,-46, -17,-46, -2,-46, -39,-47, -26,-47, -13,-47, 4,-47,
  -48,-48, -32,-48, -19,-48, -6,-48, -36,-49, -23,-49, -10,-49, 9,-49, -42,-50, -29,-50,
  -15,-50, -34,-52, -21,-52, -8,-52, -40,-54, -26,-54, -12,-54, -30,-56, -17,-56, -4,-56,
];

// ---------------------------------------------------------------------------
// Red-colour candidates with error bars
// (lowerLimit: arrow up on F883-F913, upperLimit: arrow left on F913-F941)
// ---------------------------------------------------------------------------
const detX = [-1.55, -1.30, -0.77, -0.633, -0.546, -0.56, -0.378, -0.325, -0.263, -0.202, -0.073, 0.118, 0.327, 0.778, -0.613];
const detY = [2.138, 1.891, 1.365, 1.224, 1.135, 1.106, 0.971, 0.918, 0.856, 0.794, 0.665, 0.791, 0.912, 0.506, 0.768];
const detXLo = [-2.01, -1.75, -1.25, -1.13, -1.05, -1.08, -0.91, -0.85, -0.80, -0.74, -0.60, -0.57, 0.00, 0.395, -1.11];
const detXHi = [-1.10, -0.85, -0.29, -0.12, -0.04, -0.02, 0.30, 0.34, 0.38, 0.46, 0.45, 0.40, 0.66, 1.05, -0.12];
const detYLo = [1.69, 1.44, 0.89, 0.61, 0.54, 0.50, 0.36, 0.30, 0.25, 0.20, 0.10, 0.30, 0.42, -0.04, 0.33];
const detYHi = [2.49, 2.34, 1.60, 1.83, 1.71, 1.68, 1.45, 1.40, 1.33, 1.27, 1.16, 1.28, 1.40, 1.04, 0.89];
const detLowerLimit = [1, 1, 1, 1, 1, 1, 1, 1, 1, 1, 1, 1, 1, 1, 0];
const detUpperLimit = [1, 1, 1, 1, 1, 1, 1, 1, 1, 1, 1, 0, 0, 0, 1];

const candX = [-1.447, -1.369, -1.282, -1.047, -0.932, -0.664, -0.445, -0.414, -0.479, -0.154, -0.059, -0.132, -0.109, -0.022, 0.115, 0.078, -0.521];
const candY = [2.035, 1.959, 1.882, 1.638, 1.321, 1.262, 1.038, 1.006, 0.906, 1.215, 0.897, 0.735, 0.709, 0.618, 0.991, 0.753, 0.626];
const candXLo = [-1.90, -1.82, -1.73, -1.51, -1.41, -1.13, -0.93, -0.90, -0.95, -0.60, -0.50, -0.60, -0.58, -0.45, -0.12, -0.35, -1.05];
const candXHi = [-0.99, -0.91, -0.82, -0.58, -0.46, -0.15, 0.08, 0.10, 0.02, 0.30, 0.40, 0.50, 0.52, 0.46, 0.58, 0.45, -0.05];
const candYLo = [1.58, 1.50, 1.41, 1.17, 0.86, 0.77, 0.52, 0.50, 0.40, 0.60, 0.40, 0.22, 0.20, 0.15, 0.33, 0.28, 0.20];
const candYHi = [2.49, 2.41, 2.33, 2.10, 1.82, 1.75, 1.53, 1.50, 1.40, 1.69, 1.38, 1.22, 1.20, 1.10, 1.51, 1.20, 0.95];
const candLowerLimit = [1, 1, 1, 1, 0, 1, 1, 1, 0, 1, 1, 1, 1, 1, 1, 1, 0];
const candUpperLimit = [1, 1, 1, 1, 1, 1, 1, 1, 0, 0, 1, 1, 1, 1, 0, 0, 1];

// ---------------------------------------------------------------------------
// Styling
// ---------------------------------------------------------------------------
const SERIF = '"Liberation Serif", "Times New Roman", "DejaVu Serif", serif';
const DET_FILL = "#0000f2";
const CAND_FILL = "#5ba3f6";
const DET_BAR = "#3d3dff";
const CAND_BAR = "#92c3fc";
const ARROW = "#15157e";
const ARROW_LEN = 78; // px
const HEAD_LEN = 24;
const HEAD_HALF = 20;
const DOT_RADIUS = 3.6;

type Pt = { x: number; y: number };
type Obj = {
  x: number; y: number; xlo: number; xhi: number; ylo: number; yhi: number; up: boolean; left: boolean;
};

function pairsToPoints(list: number[]): Pt[] {
  const out: Pt[] = [];
  for (let i = 0; i + 1 < list.length; i += 2) out.push({ x: list[i] / 100, y: list[i + 1] / 100 });
  return out;
}

function buildObjects(
  xs: number[], ys: number[], xlo: number[], xhi: number[], ylo: number[], yhi: number[], up: number[], left: number[]
): Obj[] {
  return xs.map((x, i) => ({
    x, y: ys[i], xlo: xlo[i], xhi: xhi[i], ylo: ylo[i], yhi: yhi[i], up: up[i] === 1, left: left[i] === 1,
  }));
}

const detections = buildObjects(detX, detY, detXLo, detXHi, detYLo, detYHi, detLowerLimit, detUpperLimit);
const candidates = buildObjects(candX, candY, candXLo, candXHi, candYLo, candYHi, candLowerLimit, candUpperLimit);

const fieldPoints: Pt[] = pairsToPoints([
  ...northFieldStars, ...westFieldStars, ...eastFieldStars, ...southFieldStars,
  ...stripPlus50, ...stripPlus40, ...stripPlus30, ...stripPlus20, ...stripPlus10, ...stripZero,
  ...stripMinus00, ...stripMinus10, ...stripMinus20, ...stripMinus30, ...stripMinus40,
  ...stripMinus50, ...stripMinus60,
  ...clumpCore, ...clumpHeart, ...clumpWestRing, ...clumpEastRing, ...clumpNorthRing, ...clumpSouthRing,
]);
const locusPoints: Pt[] = pairsToPoints(locusStars);

// Error bars and limit arrows, drawn underneath all datasets
const errorBarPlugin = {
  id: "errorBars",
  beforeDatasetsDraw(chart: any) {
    const { ctx, chartArea: a } = chart;
    const xs = chart.scales.x;
    const ys = chart.scales.y;
    ctx.save();
    ctx.beginPath();
    ctx.rect(a.left, a.top, a.right - a.left, a.bottom - a.top);
    ctx.clip();

    const bars = (objs: Obj[], colour: string) => {
      ctx.strokeStyle = colour;
      ctx.lineWidth = 1.2;
      ctx.beginPath();
      for (const o of objs) {
        const px = xs.getPixelForValue(o.x);
        const py = ys.getPixelForValue(o.y);
        ctx.moveTo(xs.getPixelForValue(o.xlo), py);
        ctx.lineTo(xs.getPixelForValue(o.xhi), py);
        ctx.moveTo(px, ys.getPixelForValue(o.ylo));
        ctx.lineTo(px, ys.getPixelForValue(o.yhi));
      }
      ctx.stroke();
    };
    const arrows = (objs: Obj[]) => {
      ctx.strokeStyle = ARROW;
      ctx.lineWidth = 1.5;
      ctx.beginPath();
      for (const o of objs) {
        const px = xs.getPixelForValue(o.x);
        const py = ys.getPixelForValue(o.y);
        if (o.up) {
          const ty = py - ARROW_LEN;
          ctx.moveTo(px, py);
          ctx.lineTo(px, ty);
          ctx.moveTo(px - HEAD_HALF, ty + HEAD_LEN);
          ctx.lineTo(px, ty);
          ctx.lineTo(px + HEAD_HALF, ty + HEAD_LEN);
        }
        if (o.left) {
          const tx = px - ARROW_LEN;
          ctx.moveTo(px, py);
          ctx.lineTo(tx, py);
          ctx.moveTo(tx + HEAD_LEN, py - HEAD_HALF);
          ctx.lineTo(tx, py);
          ctx.lineTo(tx + HEAD_LEN, py + HEAD_HALF);
        }
      }
      ctx.stroke();
    };

    bars(candidates, CAND_BAR);
    bars(detections, DET_BAR);
    arrows(candidates);
    arrows(detections);
    ctx.restore();
  },
};

function drawText(
  ctx: CanvasRenderingContext2D, text: string, x: number, y: number, size: number,
  align: CanvasTextAlign, baseline: CanvasTextBaseline, rotate = 0, stretch = 1.1
) {
  ctx.save();
  ctx.translate(x, y);
  if (rotate) ctx.rotate(rotate);
  ctx.scale(1, stretch);
  ctx.font = `${size}px ${SERIF}`;
  ctx.fillStyle = "#000";
  ctx.textAlign = align;
  ctx.textBaseline = baseline;
  ctx.fillText(text, 0, 0);
  ctx.restore();
}

// Box frame with inward ticks on all four sides, tick labels and titles
const framePlugin = {
  id: "frame",
  afterDraw(chart: any) {
    const { ctx, chartArea: a } = chart;
    const xs = chart.scales.x;
    const ys = chart.scales.y;
    ctx.save();
    ctx.strokeStyle = "#000";
    ctx.lineCap = "butt";

    ctx.lineWidth = 3.5;
    ctx.beginPath();
    const nx = Math.round((X_MAX - X_MIN) / 0.1);
    for (let k = 1; k < nx; k++) {
      const v = X_MIN + k * 0.1;
      const len = k % 5 === 0 ? 22 : 11;
      const px = xs.getPixelForValue(v);
      ctx.moveTo(px, a.bottom);
      ctx.lineTo(px, a.bottom - len);
      ctx.moveTo(px, a.top);
      ctx.lineTo(px, a.top + len);
    }
    const ny = Math.round((Y_MAX - Y_MIN) / 0.1);
    for (let k = 1; k < ny; k++) {
      const v = Y_MIN + k * 0.1;
      const len = k % 5 === 0 ? 22 : 11;
      const py = ys.getPixelForValue(v);
      ctx.moveTo(a.left, py);
      ctx.lineTo(a.left + len, py);
      ctx.moveTo(a.right, py);
      ctx.lineTo(a.right - len, py);
    }
    ctx.stroke();

    ctx.lineWidth = 5;
    ctx.strokeRect(a.left, a.top, a.right - a.left, a.bottom - a.top);

    xTickValues.forEach((v, i) => {
      drawText(ctx, xTickLabels[i], xs.getPixelForValue(v), a.bottom + 82, 58, "center", "alphabetic", 0, 1.1);
    });
    yTickValues.forEach((v, i) => {
      const py = Math.min(Math.max(ys.getPixelForValue(v), a.top + 19), a.bottom - 19);
      drawText(ctx, yTickLabels[i], a.left - 20, py, 58, "right", "middle", 0, 1.1);
    });

    drawText(ctx, xTitle, (a.left + a.right) / 2 - 3, a.bottom + 148, 61, "center", "alphabetic", 0, 1.08);
    drawText(ctx, yTitle, 165, (a.top + a.bottom) / 2, 61, "center", "alphabetic", -Math.PI / 2, 1.08);
    ctx.restore();
  },
};

export default function App() {
  const canvasRef = useRef<HTMLCanvasElement | null>(null);

  useEffect(() => {
    document.body.style.margin = "0";
    const canvas = canvasRef.current;
    if (!canvas) return;

    const chart = new Chart(canvas, {
      type: "scatter",
      data: {
        datasets: [
          {
            label: "field",
            data: fieldPoints,
            backgroundColor: "#000",
            borderColor: "#000",
            pointBorderWidth: 0,
            pointRadius: DOT_RADIUS,
            order: 5,
          },
          {
            label: "track",
            data: locusPoints,
            backgroundColor: "#000",
            borderColor: "#000",
            pointBorderWidth: 0,
            pointRadius: DOT_RADIUS,
            order: 5,
          },
          {
            label: "F913-F941 cut",
            data: [{ x: cutF913F941, y: Y_MIN }, { x: cutF913F941, y: Y_MAX }],
            showLine: true,
            borderColor: "#000",
            borderWidth: 5,
            borderDash: [23, 24],
            pointRadius: 0,
            order: 3,
          },
          {
            label: "F883-F913 cut",
            data: [{ x: X_MIN, y: cutF883F913 }, { x: X_MAX, y: cutF883F913 }],
            showLine: true,
            borderColor: "#000",
            borderWidth: 5,
            borderDash: [23, 24],
            pointRadius: 0,
            order: 3,
          },
          {
            label: "candidates",
            data: candidates.map((o) => ({ x: o.x, y: o.y })),
            backgroundColor: CAND_FILL,
            pointBorderWidth: 0,
            pointRadius: 13,
            order: 2,
          },
          {
            label: "detections",
            data: detections.map((o) => ({ x: o.x, y: o.y })),
            backgroundColor: DET_FILL,
            pointBorderWidth: 0,
            pointRadius: 19.5,
            order: 1,
          },
        ],
      },
      options: {
        responsive: false,
        animation: false,
        devicePixelRatio: 1,
        events: [],
        layout: { padding: { left: 330, top: 103, right: 98, bottom: 210 } },
        scales: {
          x: { type: "linear", min: X_MIN, max: X_MAX, display: false },
          y: { type: "linear", min: Y_MIN, max: Y_MAX, display: false },
        },
        plugins: {
          legend: { display: false },
          tooltip: { enabled: false },
        },
      },
      plugins: [errorBarPlugin, framePlugin],
    } as any);

    return () => chart.destroy();
  }, []);

  return (
    <canvas
      ref={canvasRef}
      width={1500}
      height={1500}
      style={{ display: "block", width: 1500, height: 1500 }}
    />
  );
}
